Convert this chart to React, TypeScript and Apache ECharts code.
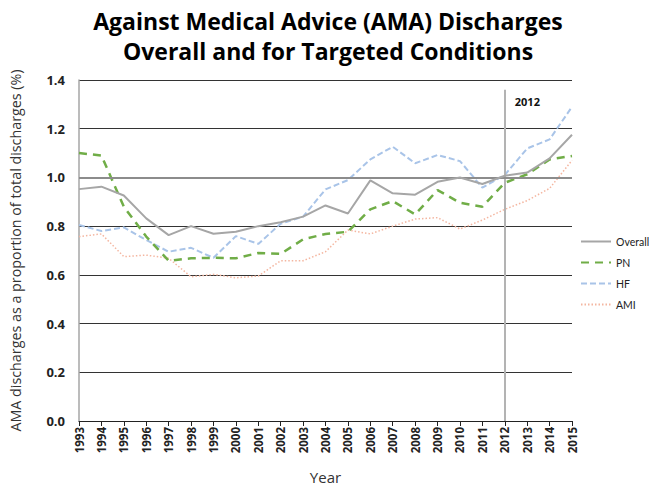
import React, { useEffect, useRef } from "react";
import * as echarts from "echarts";

const years = ["1993","1994","1995","1996","1997","1998","1999","2000","2001","2002","2003","2004","2005","2006","2007","2008","2009","2010","2011","2012","2013","2014","2015"];
const overall = [0.952,0.962,0.926,0.832,0.763,0.8,0.769,0.777,0.8,0.816,0.839,0.885,0.852,0.988,0.935,0.929,0.982,1.0,0.973,1.007,1.02,1.078,1.175];
const pn = [1.1,1.09,0.88,0.757,0.658,0.668,0.67,0.668,0.69,0.686,0.746,0.768,0.777,0.869,0.903,0.848,0.948,0.896,0.88,0.978,1.013,1.074,1.088];
const hf = [0.805,0.78,0.795,0.743,0.695,0.711,0.67,0.759,0.727,0.81,0.839,0.951,0.989,1.074,1.126,1.058,1.092,1.067,0.958,1.01,1.119,1.156,1.29];
const ami = [0.757,0.768,0.675,0.681,0.668,0.592,0.602,0.588,0.595,0.658,0.658,0.695,0.784,0.768,0.8,0.829,0.835,0.788,0.825,0.869,0.905,0.955,1.07];
const markYear = "2012";

const FONT = "'Open Sans', sans-serif";

export default function App() {
  const ref = useRef<HTMLDivElement>(null);
  useEffect(() => {
    if (!ref.current) return;
    const chart = echarts.init(ref.current, undefined, { renderer: "svg" });
    chart.setOption({
      animation: false,
      backgroundColor: "#ffffff",
      textStyle: { fontFamily: FONT },
      title: {
        text: "Against Medical Advice (AMA) Discharges\nOverall and for Targeted Conditions",
        left: 323,
        textAlign: "center",
        top: 1,
        textStyle: { fontSize: 23, fontWeight: "bold", color: "#000", lineHeight: 30, fontFamily: FONT },
      },
      legend: {
        orient: "vertical",
        left: 580,
        top: 236,
        padding: 0,
        itemWidth: 30,
        itemHeight: 10,
        itemGap: 10,
        itemStyle: { opacity: 0 },
        textStyle: { fontSize: 10.5, color: "#222", fontFamily: "Lato, sans-serif" },
        data: ["Overall", "PN", "HF", "AMI"],
      },
      grid: { left: 72, right: 77, top: 80, bottom: 70 },
      xAxis: {
        type: "category",
        data: years,
        boundaryGap: false,
        name: "Year",
        nameLocation: "middle",
        nameGap: 48,
        nameTextStyle: { fontSize: 15, color: "#333" },
        axisLine: { lineStyle: { color: "#222", width: 1 } },
        axisTick: { show: true, alignWithLabel: true, length: 5, lineStyle: { color: "#222" } },
        axisLabel: { rotate: 90, fontSize: 11.5, fontWeight: "bold", color: "#222", margin: 6, interval: 0 },
        splitLine: { show: false },
      },
      yAxis: {
        type: "value",
        min: 0,
        max: 1.4,
        interval: 0.2,
        name: "AMA discharges as a proportion of total discharges (%)",
        nameLocation: "middle",
        nameGap: 57,
        nameTextStyle: { fontSize: 14.3, color: "#333" },
        axisLine: { show: true, lineStyle: { color: "#a6a6a6", width: 1.5 } },
        axisTick: { show: false },
        axisLabel: { fontSize: 13, fontWeight: "bold", color: "#222", margin: 14, formatter: (v: number) => v.toFixed(1) },
        splitLine: { lineStyle: { color: "#333", width: 1 } },
      },
      series: [
        {
          name: "Overall",
          type: "line",
          data: overall,
          symbol: "none",
          lineStyle: { color: "#a6a6a6", width: 2 },
          itemStyle: { color: "#a6a6a6" },
          z: 5,
          markLine: {
            silent: true,
            symbol: "none",
            label: { show: false },
            data: [
              [{ coord: [markYear, 1.36] }, { coord: [markYear, 0] }],
            ],
            lineStyle: { color: "#b3b3b3", width: 2, type: "solid" },
          },
          markPoint: {
            symbol: "circle",
            symbolSize: 0,
            data: [{ coord: [markYear, 1.31], value: markYear }],
            label: { show: true, position: "right", distance: 10, formatter: markYear, fontSize: 11, fontWeight: "bold", color: "#111" },
          },
        },
        {
          name: "PN",
          type: "line",
          data: pn,
          symbol: "none",
          lineStyle: { color: "#70ad47", width: 2.5, type: [8, 6] },
          itemStyle: { color: "#70ad47" },
          z: 4,
        },
        {
          name: "HF",
          type: "line",
          data: hf,
          symbol: "none",
          lineStyle: { color: "#a9c4e8", width: 2, type: [6, 3] },
          itemStyle: { color: "#a9c4e8" },
          z: 3,
        },
        {
          name: "AMI",
          type: "line",
          data: ami,
          symbol: "none",
          lineStyle: { color: "#f4b6a0", width: 1.5, type: [1.5, 2] },
          itemStyle: { color: "#f4b6a0" },
          z: 2,
          markLine: {
            silent: true,
            symbol: "none",
            label: { show: false },
            data: [{ yAxis: 1.0 }],
            lineStyle: { color: "#8c8c8c", width: 2, type: "solid" },
          },
        },
      ],
    });
    return () => chart.dispose();
  }, []);
  return <div ref={ref} style={{ width: 649, height: 491, position: "absolute", left: 0, top: 0 }} />;
}
